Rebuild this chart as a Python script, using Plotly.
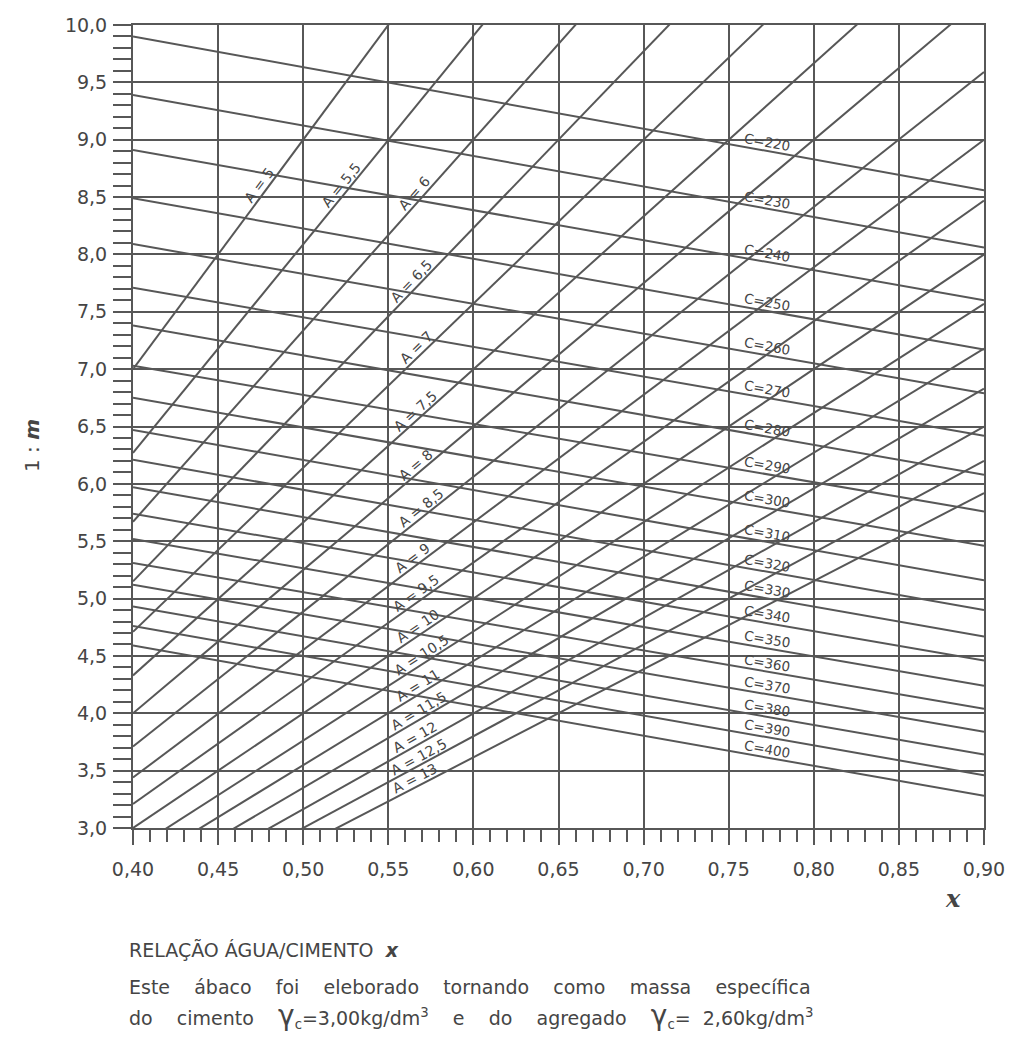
import math
import plotly.graph_objects as go

# ---- chart data -------------------------------------------------------------
# water/cement ratio axis and mix ratio axis
x_tick_vals = [0.40, 0.45, 0.50, 0.55, 0.60, 0.65, 0.70, 0.75, 0.80, 0.85, 0.90]
x_tick_text = ["0,40", "0,45", "0,50", "0,55", "0,60", "0,65", "0,70", "0,75", "0,80", "0,85", "0,90"]
y_tick_vals = [3.0, 3.5, 4.0, 4.5, 5.0, 5.5, 6.0, 6.5, 7.0, 7.5, 8.0, 8.5, 9.0, 9.5, 10.0]
y_tick_text = ["3,0", "3,5", "4,0", "4,5", "5,0", "5,5", "6,0", "6,5", "7,0", "7,5",
               "8,0", "8,5", "9,0", "9,5", "10,0"]

# A lines (water / dry materials, %): value of 1:m at x = 0,40 and x = 0,90
a_values = [5, 5.5, 6, 6.5, 7, 7.5, 8, 8.5, 9, 9.5, 10, 10.5, 11, 11.5, 12, 12.5, 13]
a_labels = ["A = 5", "A = 5,5", "A = 6", "A = 6,5", "A = 7", "A = 7,5", "A = 8", "A = 8,5",
            "A = 9", "A = 9,5", "A = 10", "A = 10,5", "A = 11", "A = 11,5", "A = 12",
            "A = 12,5", "A = 13"]
a_y_at_040 = [7.00, 6.27, 5.67, 5.15, 4.71, 4.33, 4.00, 3.71, 3.44, 3.21, 3.00, 2.81,
              2.64, 2.48, 2.33, 2.20, 2.08]
a_y_at_090 = [17.00, 15.36, 14.00, 12.85, 11.86, 11.00, 10.25, 9.59, 9.00, 8.47, 8.00,
              7.57, 7.18, 6.83, 6.50, 6.20, 5.92]

# C lines (cement consumption, kg/m3): value of 1:m at x = 0,40 and x = 0,90
c_values = [220, 230, 240, 250, 260, 270, 280, 290, 300, 310, 320, 330, 340, 350, 360,
            370, 380, 390, 400]
c_labels = ["C=" + str(c) for c in c_values]
c_y_at_040 = [9.90, 9.39, 8.91, 8.49, 8.09, 7.71, 7.38, 7.03, 6.75, 6.47, 6.21, 5.97,
              5.74, 5.52, 5.31, 5.12, 4.93, 4.76, 4.59]
c_y_at_090 = [8.56, 8.06, 7.60, 7.17, 6.79, 6.42, 6.08, 5.76, 5.46, 5.16, 4.90, 4.67,
              4.46, 4.24, 4.04, 3.84, 3.64, 3.46, 3.28]

# ---- layout geometry --------------------------------------------------------
W, H = 1016, 1042
ML, MR, MT, MB = 133, 32, 25, 214
X0, X1 = 0.40, 0.90
Y0, Y1 = 3.0, 10.0
PW, PH = W - ML - MR, H - MT - MB
SX, SY = PW / (X1 - X0), PH / (Y1 - Y0)

INK = "#575757"
TXT = "#454545"
FONT = "DejaVu Sans"

# where each family of labels sits along its line
a_label_x = [0.478, 0.526, 0.569, 0.567, 0.570, 0.569, 0.569, 0.572, 0.567, 0.569,
             0.570, 0.572, 0.570, 0.570, 0.568, 0.570, 0.568]
c_label_x = 0.772

fig = go.Figure()


def add_line(y_a, y_b):
    fig.add_trace(go.Scatter(x=[X0, X1], y=[y_a, y_b], mode="lines",
                             line=dict(color=INK, width=2), hoverinfo="skip",
                             showlegend=False))


def line_label(text, y_a, y_b, xpos, offset, size):
    slope = (y_b - y_a) / (X1 - X0)
    ypos = y_a + slope * (xpos - X0)
    theta = math.atan(slope * SY / SX)
    fig.add_annotation(x=xpos, y=ypos, xref="x", yref="y", text=text, showarrow=False,
                       textangle=-math.degrees(theta),
                       xshift=-offset * math.sin(theta), yshift=offset * math.cos(theta),
                       font=dict(family=FONT, size=size, color=TXT))


for ya, yb in zip(a_y_at_040, a_y_at_090):
    add_line(ya, yb)
for ya, yb in zip(c_y_at_040, c_y_at_090):
    add_line(ya, yb)

for lab, ya, yb, xp in zip(a_labels, a_y_at_040, a_y_at_090, a_label_x):
    line_label(lab, ya, yb, xp, 8, 14)
for lab, ya, yb in zip(c_labels, c_y_at_040, c_y_at_090):
    line_label(lab, ya, yb, c_label_x, 9, 13.5)


def px_to_paper(px, py):
    return (px - ML) / PW, (H - MB - py) / PH


# axis titles
ax, ay = px_to_paper(18, 446)
fig.add_annotation(x=ax, y=ay, xref="paper", yref="paper", showarrow=False,
                   text="1 : <b><i>m</i></b>", textangle=-90,
                   font=dict(family=FONT, size=20, color=TXT))
ax, ay = px_to_paper(963, 915)
fig.add_annotation(x=ax, y=ay, xref="paper", yref="paper", showarrow=False,
                   text="<b><i>x</i></b>",
                   font=dict(family="DejaVu Serif", size=24, color=TXT))

# notes under the chart
S = "\u00a0"
G = S * 4
notes = [
    (950, "RELAÇÃO" + S + "ÁGUA/CIMENTO" + S + S + "<b><i>x</i></b>"),
    (987, G.join(["Este", "ábaco", "foi", "eleborado", "tornando", "como", "massa",
                  "específica"])),
    (1015, G.join(["do", "cimento",
                   "<span style='font-size:28px'>γ</span><sub>c</sub>=3,00kg/dm<sup>3</sup>",
                   "e", "do", "agregado",
                   "<span style='font-size:28px'>γ</span><sub>c</sub>=" + S + S + "2,60kg/dm<sup>3</sup>"])),
]
for py, txt in notes:
    ax, ay = px_to_paper(127, py)
    fig.add_annotation(x=ax, y=ay, xref="paper", yref="paper", showarrow=False,
                       xanchor="left", yanchor="middle", text=txt, align="left",
                       font=dict(family=FONT, size=19, color=TXT))

axis_common = dict(showline=True, linecolor=INK, linewidth=2, mirror=True,
                   showgrid=True, gridcolor=INK, gridwidth=2, zeroline=False,
                   ticks="outside", tickcolor=INK, tickwidth=2,
                   tickfont=dict(family=FONT, size=19, color=TXT), tickmode="array")

fig.update_xaxes(range=[X0, X1], tickvals=x_tick_vals, ticktext=x_tick_text, ticklen=15,
                 ticklabelstandoff=8,
                 minor=dict(tickmode="linear", tick0=0.40, dtick=0.01, ticks="outside",
                            ticklen=12, tickcolor=INK, tickwidth=2, showgrid=False),
                 **axis_common)
fig.update_yaxes(range=[Y0, Y1], tickvals=y_tick_vals, ticktext=y_tick_text, ticklen=18,
                 ticklabelstandoff=2,
                 minor=dict(tickmode="linear", tick0=3.0, dtick=0.1, ticks="outside",
                            ticklen=18, tickcolor=INK, tickwidth=2, showgrid=False),
                 **axis_common)

fig.update_layout(width=W, height=H, autosize=False,
                  margin=dict(l=ML, r=MR, t=MT, b=MB, pad=0),
                  paper_bgcolor="white", plot_bgcolor="white",
                  showlegend=False, hovermode=False)

fig.write_html("out.html")
